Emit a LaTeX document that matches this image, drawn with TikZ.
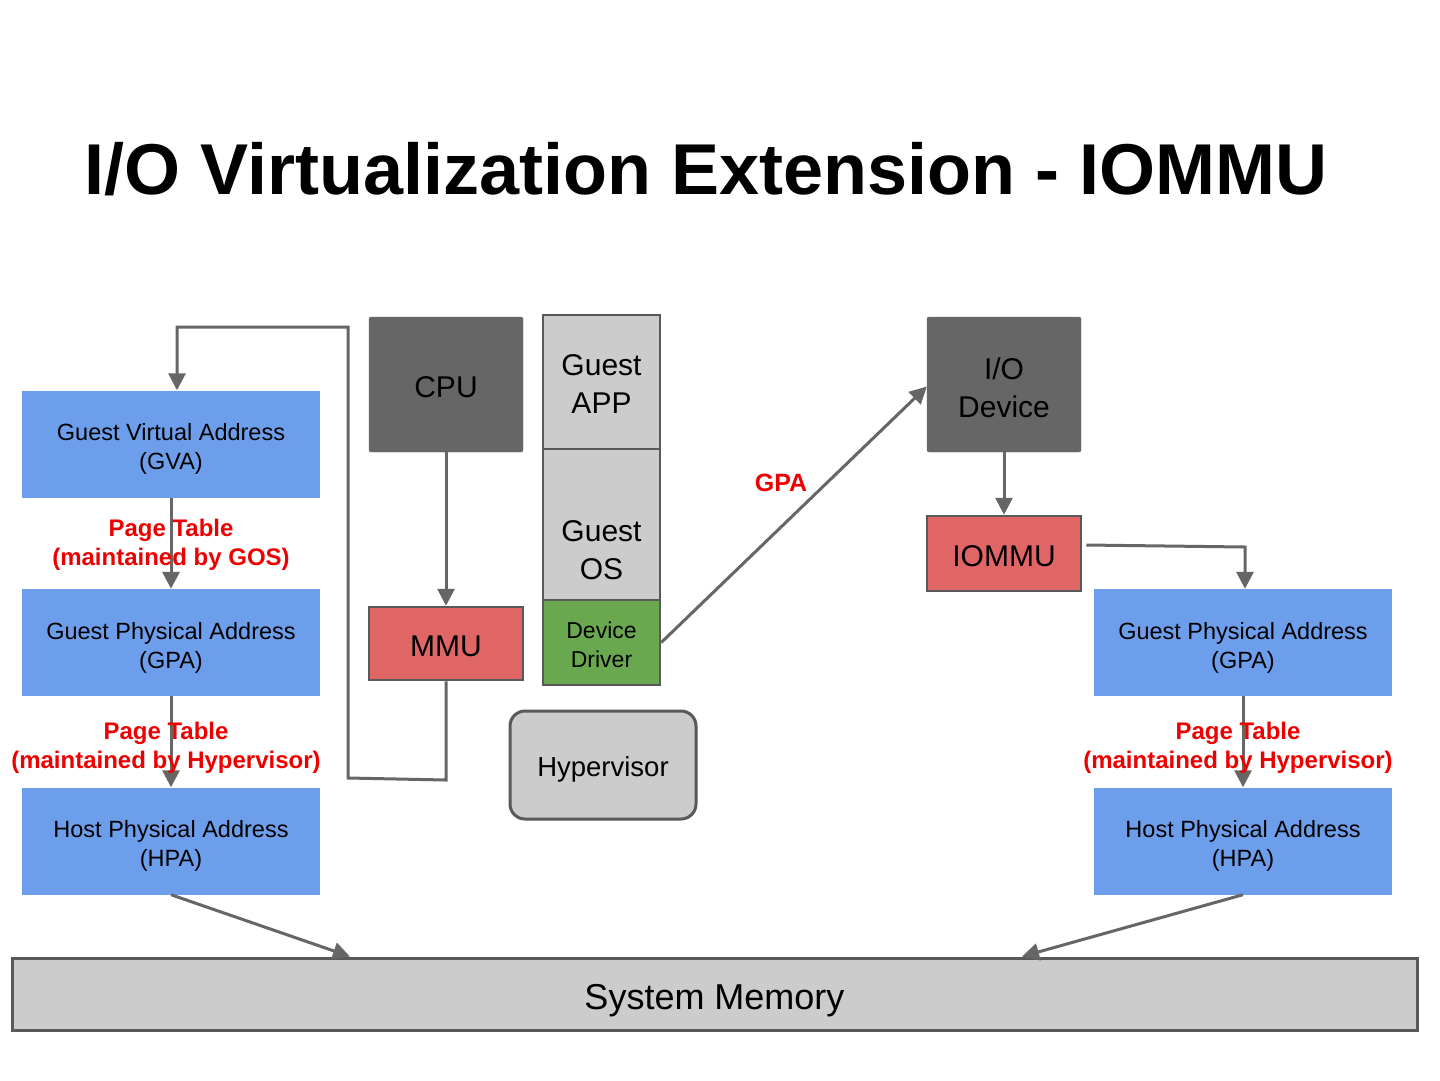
\documentclass[tikz,border=0pt]{standalone}
\usepackage{fontspec}
\setmainfont{Liberation Sans}
\usetikzlibrary{arrows.meta}
\definecolor{boxblue}{HTML}{6D9EEB}
\definecolor{boxred}{HTML}{E06666}
\definecolor{boxgreen}{HTML}{6AA84F}
\definecolor{boxlight}{HTML}{CCCCCC}
\definecolor{boxdark}{HTML}{666666}
\definecolor{edge}{HTML}{595959}
\definecolor{conncol}{HTML}{666666}
\definecolor{labred}{HTML}{EE0000}
\newcommand\dn[1]{\rule{0pt}{\dimexpr 0.73em+#1\relax}}
\tikzset{
  base/.style={rectangle, inner sep=0pt, align=center, text=black},
  addr/.style={base, fill=boxblue, minimum width=298pt, minimum height=107pt,
     font=\fontsize{23.5}{29}\selectfont},
  darkbox/.style={base, fill=boxdark, draw=boxdark, rounded corners=2pt, minimum width=154pt, minimum height=135pt,
     font=\fontsize{30}{38}\selectfont},
  redbox/.style={base, fill=boxred, draw=edge, line width=2.5pt, minimum width=154pt,
     font=\fontsize{30}{38}\selectfont},
  graybox/.style={base, fill=boxlight, draw=edge, line width=2.5pt, minimum width=117pt,
     font=\fontsize{30}{38}\selectfont},
  conn/.style={draw=conncol, line width=3pt},
  arr/.style={conn, -{Triangle[length=17pt,width=17pt]}},
  redlab/.style={text=labred, align=center, inner sep=0pt, font=\bfseries\fontsize{24}{29}\selectfont},
}
\begin{document}
\begin{tikzpicture}[x=1pt,y=-1pt]
\useasboundingbox (0,0) rectangle (1440,1080);
\fill[white] (0,0) rectangle (1440,1080);

% title
\node[anchor=base, inner sep=0pt, font=\bfseries\fontsize{72}{80}\selectfont] (title) at (706,194) {I/O Virtualization Extension - IOMMU};

% left address column
\node[addr] (gva) at (171,444) {\dn{10pt}Guest Virtual Address\\(GVA)};
\node[addr] (gpal) at (171,642.5) {\dn{10pt}Guest Physical Address\\(GPA)};
\node[addr] (hpal) at (171,841) {\dn{10pt}Host Physical Address\\(HPA)};

% right address column
\node[addr] (gpar) at (1243,642.5) {\dn{10pt}Guest Physical Address\\(GPA)};
\node[addr] (hpar) at (1243,841) {\dn{10pt}Host Physical Address\\(HPA)};

% CPU / MMU
\node[darkbox] (cpu) at (446,384.5) {\dn{4pt}CPU};
\node[redbox, minimum height=73pt] (mmu) at (446,643.5) {\dn{4pt}MMU};

% guest stack
\node[graybox, minimum height=134pt] (gapp) at (601.5,382) {\dn{3pt}Guest\\APP};
\node[graybox, minimum height=198pt] (gos) at (601.5,548) {\dn{3pt}Guest\\OS};
\node[base, fill=boxgreen, draw=edge, line width=2.5pt, minimum width=117pt, minimum height=85pt,
      font=\fontsize{23}{29}\selectfont] (drv) at (601.5,642.5) {\dn{5pt}Device\\Driver};

% hypervisor
\node[base, fill=boxlight, draw=edge, line width=3pt, rounded corners=15pt, minimum width=186pt, minimum height=108pt,
      font=\fontsize{27.5}{32}\selectfont] (hyp) at (603,765) {\dn{8pt}Hypervisor};

% I/O device / IOMMU
\node[darkbox] (iodev) at (1004,384.5) {\dn{6pt}I/O\\Device};
\node[redbox, minimum height=75pt] (iommu) at (1004,553.5) {\dn{4pt}IOMMU};

% system memory
\node[base, fill=boxlight, draw=edge, line width=3pt, minimum width=1405pt, minimum height=72pt,
      font=\fontsize{36}{42}\selectfont] (mem) at (714.5,994) {\dn{12pt}System Memory};

% connectors
\coordinate (c1) at (446,780);
\coordinate (c2) at (348,778);
\coordinate (c3) at (348,327);
\coordinate (c4) at (177,327);
\draw[arr] (mmu.south) -- (c1) -- (c2) -- (c3) -- (c4) -- (gva.north -| c4);

\draw[arr] (gva.south) -- (gpal.north);
\draw[arr] (gpal.south) -- (hpal.north);
\draw[arr] (cpu.south) -- (mmu.north);
\draw[arr] (drv.east) -- ([yshift=-2pt]iodev.west);
\draw[arr] (iodev.south) -- (iommu.north);
\coordinate (c5) at (1245,547);
\draw[arr] ([xshift=4pt,yshift=8.5pt]iommu.east) -- (c5) -- (c5 |- gpar.north);
\draw[arr] (gpar.south) -- (hpar.north);

\coordinate (m1) at (350,958);
\coordinate (m2) at (1022,958);
\draw[arr] (hpal.south) -- (mem.north -| m1);
\draw[arr] (hpar.south) -- (mem.north -| m2);

% labels
\node[redlab] (pt1) at (171,545) {Page Table\\(maintained by GOS)};
\node[redlab] (pt2) at (166,748) {Page Table\\(maintained by Hypervisor)};
\node[redlab] (pt3) at (1238,748) {Page Table\\(maintained by Hypervisor)};
\node[redlab, font=\bfseries\fontsize{25}{30}\selectfont] (gpalab) at (781,483) {GPA};
\end{tikzpicture}
\end{document}
